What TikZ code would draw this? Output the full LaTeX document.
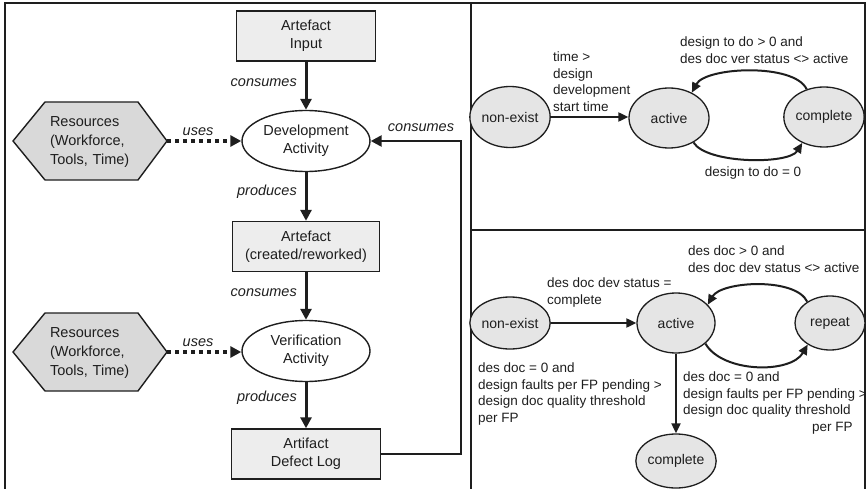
\documentclass[tikz,border=0pt]{standalone}
\usepackage{fontspec}
\setmainfont{Liberation Sans}
\usetikzlibrary{arrows.meta,shapes.geometric}
\definecolor{ink}{HTML}{1E1E1E}
\begin{document}
\begin{tikzpicture}[x=1pt,y=1pt,
  every node/.style={text=ink},
  artbox/.style={draw=ink, line width=1.4pt, fill=black!7, minimum height=50pt, align=center,
    inner sep=0pt, font=\fontsize{14.5}{18}\selectfont},
  actell/.style={ellipse, draw=ink, line width=1.4pt, fill=white, minimum width=128pt,
    minimum height=61pt, align=center, inner sep=0pt, font=\fontsize{14.5}{18}\selectfont},
  hexline/.style={draw=ink, line width=1.4pt, fill=black!15, line join=miter},
  hextext/.style={text width=81pt, align=left, inner sep=0pt, font=\fontsize{14.5}{19}\selectfont},
  flow/.style={draw=ink, line width=3pt, -{Triangle[length=11pt,width=11pt]}},
  usesarrow/.style={draw=ink, line width=4pt, dash pattern=on 4pt off 4pt,
    -{Triangle[length=11pt,width=11pt]}},
  lbl/.style={font=\fontsize{14.5}{18}\selectfont\itshape, inner sep=0pt},
  state/.style={ellipse, draw=ink, line width=1.3pt, fill=black!10, inner sep=0pt,
    font=\fontsize{14}{16}\selectfont},
  trans/.style={draw=ink, line width=2pt, -{Triangle[length=10pt,width=9pt]}},
  cond/.style={font=\fontsize{13.5}{16.5}\selectfont, align=left, inner sep=0pt, anchor=north west},
  frame/.style={draw=ink, line width=1.8pt},
]
\useasboundingbox (0,0) rectangle (866,-489);
% frame
\draw[frame] (5,-489) -- (5,-3) -- (865,-3) -- (865,-489);
\draw[frame] (471,-3) -- (471,-489);
\draw[frame] (471,-230) -- (865,-230);

% ---------- left panel ----------
\node[artbox, minimum width=139pt] (ain) at (306,-36) {Artefact\\Input};
\node[actell] (dev) at (306,-141) {Development\\Activity};
\node[artbox, minimum width=147pt] (acr) at (306,-246.5) {Artefact\\(created/reworked)};
\node[actell] (ver) at (306,-351) {Verification\\Activity};
\node[artbox, minimum width=149pt] (dlog) at (306,-454) {Artifact\\Defect Log};

% resource hexagons
\coordinate (r1) at (167,-141);
\draw[hexline] (13,-141) -- (45,-102) -- (138,-102) -- (r1) -- (138,-180) -- (45,-180) -- cycle;
\node[hextext] (res1) at (90.5,-142) {Resources\\(Workforce,\\Tools, Time)};
\coordinate (r2) at (167,-352);
\draw[hexline] (13,-352) -- (45,-313) -- (138,-313) -- (r2) -- (138,-391) -- (45,-391) -- cycle;
\node[hextext] (res2) at (90.5,-353) {Resources\\(Workforce,\\Tools, Time)};

\draw[flow] (ain) -- (dev);
\draw[flow] (dev) -- (acr);
\draw[flow] (acr) -- (ver);
\draw[flow] (ver) -- (dlog);
\draw[usesarrow] (r1) -- (r1 -| dev.west);
\draw[usesarrow] (r2) -- (r2 -| ver.west);
\coordinate (fb) at (461,-300);
\draw[flow, line width=2.5pt] (dlog.east) -| (fb) |- (dev.east);

\node[lbl, anchor=east] (l1) at (297,-83) {consumes};
\node[lbl, anchor=east] (l2) at (297,-192) {produces};
\node[lbl, anchor=east] (l3) at (297,-293) {consumes};
\node[lbl, anchor=east] (l4) at (297,-398) {produces};
\node[lbl] (l5) at (198,-132) {uses};
\node[lbl] (l6) at (198,-343) {uses};
\node[lbl] (l7) at (421,-128) {consumes};

% ---------- right top panel ----------
\node[state, minimum width=75pt, minimum height=61pt] (ne1) at (510,-117) {non-exist};
\node[state, minimum width=80pt, minimum height=60pt] (act1) at (669,-118) {active};
\node[state, minimum width=78pt, minimum height=60pt] (cmp1) at (824,-117) {complete};
\draw[trans] (ne1.east) -- (ne1.east -| act1.west);
\draw[trans] (cmp1.122) to[out=115, in=62, looseness=0.65] (act1.48);
\draw[trans] (act1.-45) to[out=-58, in=-122, looseness=0.6] (cmp1.-130);
\node[cond] (c1) at (553,-52) {time >\\design\\development\\start time};
\node[cond] (c2) at (680,-37) {design to do > 0 and\\des doc ver status <> active};
\node[font=\fontsize{13.5}{16.5}\selectfont, inner sep=0pt] (c3) at (753,-173) {design to do = 0};

% ---------- right bottom panel ----------
\node[state, minimum width=76pt, minimum height=52pt] (ne2) at (510,-323) {non-exist};
\node[state, minimum width=78pt, minimum height=60pt] (act2) at (676,-323) {active};
\node[state, minimum width=70pt, minimum height=54pt] (rep) at (830,-323) {repeat};
\node[state, minimum width=78pt, minimum height=54pt] (cmp2) at (676,-461) {complete};
\draw[trans] (ne2.east) -- (ne2.east -| act2.west);
\draw[trans] (rep.137) to[out=115, in=60, looseness=0.7] (act2.30);
\draw[trans] (act2.-35) to[out=-60, in=-120, looseness=0.85] (rep.-136);
\draw[trans] (act2.south) -- (cmp2.north);
\node[cond] (c4) at (547,-278) {des doc dev status =\\complete};
\node[cond] (c5) at (688,-246) {des doc > 0 and\\des doc dev status <> active};
\node[cond] (c6) at (478,-363) {des doc = 0 and\\design faults per FP pending >\\design doc quality threshold\\per FP};
\node[cond] (c7) at (683,-372) {des doc = 0 and\\design faults per FP pending >\\design doc quality threshold\\\hspace*{129pt}per FP};
\end{tikzpicture}
\end{document}
